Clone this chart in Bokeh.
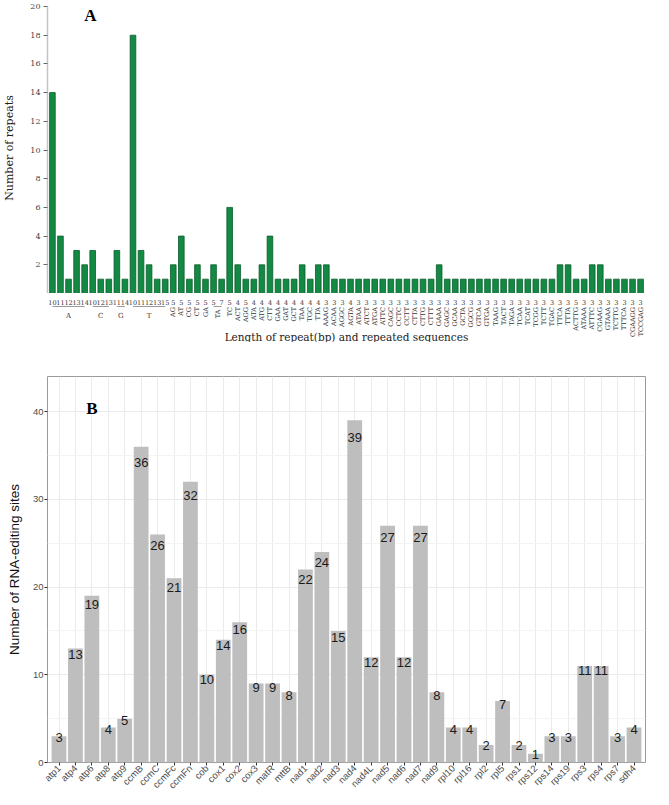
import math
from bokeh.plotting import figure
from bokeh.layouts import column
from bokeh.models import Range1d, FactorRange, FixedTicker
from bokeh.core.properties import value
from bokeh.embed import file_html
from bokeh.resources import INLINE

# ---------------- Panel A data ----------------
mono_base = ["A", "A", "A", "A", "A", "C", "C", "C", "G", "G", "T", "T", "T", "T", "T"]
mono_length = [10, 11, 12, 13, 14, 10, 12, 13, 11, 14, 10, 11, 12, 13, 15]
mono_count = [14, 4, 1, 3, 2, 3, 1, 1, 3, 1, 18, 3, 2, 1, 1]

motif_seq = ["AG", "AT", "CG", "CT", "GA", "TA", "TA", "TC",
             "ACT", "AGG", "ATA", "ATG", "CTT", "GAA", "GAT", "GCT", "TAA", "TGC", "TTA",
             "AAAG", "ACAA", "AGGC", "AGTA", "ATAA", "ATCT", "ATGA", "ATTC", "CAGC", "CCTC",
             "CCTT", "CTTA", "CTTG", "CTTT", "GAAA", "GAGC", "GCAA", "GCTA", "GGCG", "GTCA",
             "GTGA", "TAAG", "TACT", "TAGA", "TCAA", "TCAT", "TCGG", "TCTT", "TGAC", "TTCA",
             "TTTA", "ACTTG", "ATAAA", "ATTTC", "CGAAG", "GTAAA", "TCTTG", "TTTCA",
             "CGAAGG", "TCCGAG"]
motif_copies = [5, 5, 5, 5, 5, 5, 7, 5,
                4, 5, 4, 4, 4, 4, 4, 4, 4, 4, 4,
                3, 3, 3, 4, 3, 3, 3, 3, 3, 3,
                3, 3, 3, 3, 3, 3, 3, 3, 3, 3,
                3, 3, 3, 3, 3, 3, 3, 3, 3, 3,
                3, 5, 3, 3, 3, 3, 3, 3,
                3, 3]
motif_count = [2, 4, 1, 2, 1, 2, 1, 6,
               2, 1, 1, 2, 4, 1, 1, 1, 2, 1, 2,
               2, 1, 1, 1, 1, 1, 1, 1, 1, 1,
               1, 1, 1, 1, 2, 1, 1, 1, 1, 1,
               1, 1, 1, 1, 1, 1, 1, 1, 1, 2,
               2, 1, 1, 2, 2, 1, 1, 1,
               1, 1]
repeat_ticks = [2, 4, 6, 8, 10, 12, 14, 16, 18, 20]

# ---------------- Panel B data ----------------
genes = ["atp1", "atp4", "atp6", "atp8", "atp9", "ccmB", "ccmC", "ccmFc", "ccmFn", "cob",
         "cox1", "cox2", "cox3", "matR", "mttB", "nad1", "nad2", "nad3", "nad4", "nad4L",
         "nad5", "nad6", "nad7", "nad9", "rpl10", "rpl16", "rpl2", "rpl5", "rps1", "rps12",
         "rps14", "rps19", "rps3", "rps4", "rps7", "sdh4"]
sites = [3, 13, 19, 4, 5, 36, 26, 21, 32, 10,
         14, 16, 9, 9, 8, 22, 24, 15, 39, 12,
         27, 12, 27, 8, 4, 4, 2, 7, 2, 1,
         3, 3, 11, 11, 3, 4]
site_ticks = [0, 10, 20, 30, 40]
site_minor = [5, 15, 25, 35]

SERIF = value("DejaVu Serif")
SANS = value("Liberation Sans")
W = 653

# ================= Panel A (bars) =================
n_mono = len(mono_base)
n_all = n_mono + len(motif_seq)
idx = list(range(n_all))
counts = mono_count + motif_count
num_txt = [str(v) for v in mono_length + motif_copies]
xr = Range1d(-0.61, n_all - 1 + 0.61)

HA = 293
pA = figure(width=W, height=HA, output_backend="svg", toolbar_location=None,
            x_range=xr, y_range=Range1d(0, 20.28),
            x_axis_location=None, min_border_left=41, min_border_right=8,
            min_border_top=2, min_border_bottom=0)
pA.outline_line_color = None
pA.grid.visible = False

pA.vbar(x=idx, top=counts, bottom=0, width=0.7, fill_color="#138a43",
        line_color="#0b5a2b", line_width=0.8)

ya = pA.yaxis[0]
ya.ticker = FixedTicker(ticks=repeat_ticks)
ya.bounds = (0, 20)
ya.axis_line_color = "#c4c4c4"
ya.axis_line_width = 1.5
ya.major_tick_out = 4
ya.major_tick_in = 0
ya.major_tick_line_color = "#666666"
ya.minor_tick_line_color = None
ya.major_label_text_font = "DejaVu Serif"
ya.major_label_text_font_size = "8px"
ya.major_label_text_color = "#444444"
ya.major_label_standoff = 3
ya.axis_label = "Number of repeats"
ya.axis_label_text_font = "DejaVu Serif"
ya.axis_label_text_font_style = "normal"
ya.axis_label_text_font_size = "11px"
ya.axis_label_text_color = "#222222"
ya.axis_label_standoff = 11

pA.text(x=[4.7], y=[19.37], text=["A"], text_align="center", text_baseline="middle",
        text_font=value("Liberation Serif"), text_font_style="bold",
        text_font_size="17px", text_color="black")

# ================= Panel A (category labels strip) =================
HS = 49
pS = figure(width=W, height=HS, output_backend="svg", toolbar_location=None,
            x_range=xr, y_range=Range1d(-HS, 0),
            x_axis_location=None, y_axis_location=None,
            min_border_left=41, min_border_right=8, min_border_top=0,
            min_border_bottom=0)
pS.outline_line_color = None
pS.grid.visible = False

# length / copy-number row
pS.text(x=idx, y=[-9] * n_all, text=num_txt, text_align="center",
        text_baseline="middle", text_font=SERIF, text_font_size="6.5px",
        text_color="#333333")


def runs(labels, offset):
    out, start = [], 0
    for i in range(1, len(labels) + 1):
        if i == len(labels) or labels[i] != labels[start]:
            out.append((labels[start], offset + start, offset + i - 1))
            start = i
    return out


mono_runs = runs(mono_base, 0)
motif_runs = runs(motif_seq, n_mono)

pS.segment(x0=[r[1] for r in mono_runs], x1=[r[2] for r in mono_runs],
           y0=[-13] * len(mono_runs), y1=[-13] * len(mono_runs),
           line_color="#9a9a9a", line_width=1)
pS.text(x=[(r[1] + r[2]) / 2 for r in mono_runs], y=[-22] * len(mono_runs),
        text=[r[0] for r in mono_runs], text_align="center", text_baseline="middle",
        text_font=SERIF, text_font_size="7px", text_color="#333333")

multi = [r for r in motif_runs if r[2] > r[1]]
pS.segment(x0=[r[1] for r in multi], x1=[r[2] for r in multi],
           y0=[-13] * len(multi), y1=[-13] * len(multi),
           line_color="#9a9a9a", line_width=1)
pS.text(x=[(r[1] + r[2]) / 2 for r in motif_runs],
        y=[-16 if r[2] > r[1] else -13.5 for r in motif_runs],
        text=[r[0] for r in motif_runs], angle=math.pi / 2, text_align="right",
        text_baseline="middle", text_font=SERIF, text_font_size="6.5px",
        text_color="#333333")

pS.text(x=[(n_all - 1) / 2], y=[-43],
        text=["Length of repeat(bp) and repeated sequences"], text_align="center",
        text_baseline="middle", text_font=SERIF, text_font_size="10.5px",
        text_color="#222222")

# ================= Panel B =================
HB = 455
pB = figure(width=W, height=HB, output_backend="svg", toolbar_location=None,
            x_range=FactorRange(factors=genes, range_padding=0.2,
                                range_padding_units="absolute"),
            y_range=Range1d(0, 44),
            min_border_left=40, min_border_right=3, min_border_top=34,
            min_border_bottom=20)
pB.outline_line_color = "#9a9a9a"
pB.outline_line_width = 1

pB.xgrid.grid_line_color = "#ebebeb"
pB.ygrid.grid_line_color = "#ebebeb"
pB.ygrid.minor_grid_line_color = "#f4f4f4"

pB.vbar(x=genes, top=sites, width=0.9, fill_color="#bebebe", line_color=None)
pB.text(x=genes, y=[v * 0.95 for v in sites], text=[str(v) for v in sites],
        text_align="center", text_baseline="middle", text_font=SANS,
        text_font_size="13px", text_color="#1a1a1a")

yb = pB.yaxis[0]
yb.ticker = FixedTicker(ticks=site_ticks, minor_ticks=site_minor)
yb.minor_tick_in = 0
yb.minor_tick_out = 0

for ax in (pB.xaxis[0], yb):
    ax.axis_line_color = None
    ax.major_tick_out = 3
    ax.major_tick_in = 0
    ax.major_tick_line_color = "#333333"
    ax.major_label_text_font = "Liberation Sans"
    ax.major_label_text_font_size = "9.5px"
    ax.major_label_text_color = "#4d4d4d"
    ax.major_label_standoff = 1

pB.xaxis[0].major_label_orientation = math.pi / 4
yb.axis_label = "Number of RNA-editing sites"
yb.axis_label_text_font = "Liberation Sans"
yb.axis_label_text_font_style = "normal"
yb.axis_label_text_font_size = "13.5px"
yb.axis_label_text_color = "#111111"
yb.axis_label_standoff = 8

pB.text(x=["atp6"], y=[40.4], text=["B"], text_align="center", text_baseline="middle",
        text_font=value("Liberation Serif"), text_font_style="bold",
        text_font_size="17px", text_color="black")

layout = column(pA, pS, pB)
open("out.html", "w").write(file_html(layout, INLINE))
